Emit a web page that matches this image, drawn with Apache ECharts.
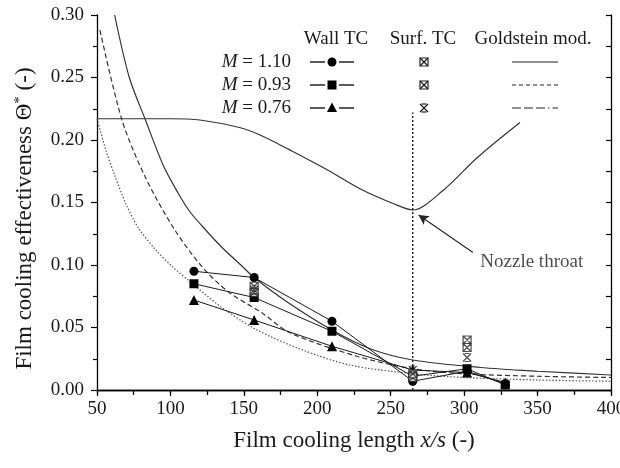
<!DOCTYPE html>
<html>
<head>
<meta charset="utf-8">
<script src="https://cdn.jsdelivr.net/npm/echarts@6/dist/echarts.min.js"></script>
<style>
  html, body { margin: 0; padding: 0; background: #fff; }
  #chart { width: 620px; height: 468px; }
</style>
</head>
<body>
<div id="chart"></div>
<script>
const serif = '"Liberation Serif", "DejaVu Serif", serif';
const ink = '#1a1a1a';

// Wall thermocouples (filled markers joined by lines)
const wallX = [116, 157, 210, 265, 302, 328];
const wall110 = [0.095, 0.090, 0.055, 0.007, 0.015, 0.005];
const wall093 = [0.085, 0.074, 0.047, 0.011, 0.017, 0.004];
const wall076 = [0.072, 0.056, 0.035, 0.016, 0.014, 0.006];

// Surface thermocouples (crossed symbols)
const surfX = [157, 265, 302];
const surf110 = [0.083, 0.010, 0.040];
const surf093 = [0.078, 0.013, 0.034];
const surf076 = [0.080, 0.016, 0.026];

// Goldstein model curves
const gold110X = [62, 72, 83, 95, 105, 113, 124, 136, 147, 157, 180, 210, 236, 265, 311, 350, 400];
const gold110Y = [0.300, 0.250, 0.216, 0.180, 0.158, 0.143, 0.128, 0.113, 0.101, 0.090, 0.070, 0.048, 0.033, 0.024, 0.018, 0.015, 0.012];
const gold093X = [52, 67, 83, 103, 122, 140, 162, 181, 227, 265, 300, 350, 400];
const gold093Y = [0.288, 0.216, 0.170, 0.128, 0.098, 0.078, 0.062, 0.046, 0.027, 0.017, 0.013, 0.011, 0.010];
const gold076X = [50, 56, 62, 70, 78, 90, 101, 113, 135, 159, 190, 222, 265, 300, 350, 400];
const gold076Y = [0.217, 0.192, 0.172, 0.148, 0.130, 0.112, 0.099, 0.087, 0.066, 0.048, 0.032, 0.020, 0.013, 0.010, 0.008, 0.007];

// Nozzle contour curve and throat marker
const nozzleX = [50, 80, 100, 120, 147, 161, 183, 207, 229, 252, 265, 286, 309, 338];
const nozzleY = [0.217, 0.217, 0.217, 0.216, 0.210, 0.204, 0.191, 0.176, 0.161, 0.149, 0.144, 0.160, 0.186, 0.214];
const throatX = 265;
const throatTop = 0.222;
const arrowFrom = [306, 0.110];
const arrowTo = [269, 0.140];
const noteAt = [311, 0.102];
const noteText = 'Nozzle throat';

const legendRows = ['1.10', '0.93', '0.76'];

function zip(xs, ys) { return xs.map((x, i) => [x, ys[i]]); }

const crossBox = 'path://M0,0L10,0L10,10L0,10Z M0,0L10,10 M10,0L0,10';
const crossHour = 'path://M0,0L10,10 M10,0L0,10 M2,0L8,0 M2,10L8,10';

function wallSeries(name, ys, symbol, size) {
  return {
    name, type: 'line', data: zip(wallX, ys),
    symbol, symbolSize: size, showSymbol: true,
    lineStyle: { color: ink, width: 1 },
    itemStyle: { color: '#000' },
    emphasis: { disabled: true }, z: 5
  };
}
function surfSeries(name, ys, symbol) {
  return {
    name, type: 'scatter', data: zip(surfX, ys),
    symbol, symbolSize: 8,
    itemStyle: { color: '#fff', borderColor: '#222', borderWidth: 1.2 },
    emphasis: { disabled: true }, z: 6
  };
}
function curve(name, xs, ys, type, color) {
  return {
    name, type: 'line', data: zip(xs, ys), smooth: 0.3,
    showSymbol: false, symbol: 'none',
    lineStyle: { color, width: 1.2, type },
    emphasis: { disabled: true }, z: 3
  };
}

// legend drawn as a small table
const fs = 19;
const rowY = [62, 85, 108];
const legendGraphics = [];
const txt = (x, y, text, align, extra) => ({
  type: 'text', x, y, silent: true,
  style: Object.assign({ text, fill: ink, font: fs + 'px ' + serif, align, verticalAlign: 'middle' }, extra || {})
});
legendGraphics.push(txt(336, 39, 'Wall TC', 'center'));
legendGraphics.push(txt(423, 39, 'Surf. TC', 'center'));
legendGraphics.push(txt(533, 39, 'Goldstein mod.', 'center'));
const markers = ['circle', 'rect', 'triangle'];
const dashes = [null, [4, 3], [9, 3, 9, 3, 9, 3, 1.5, 3]];
legendRows.forEach((m, i) => {
  const y = rowY[i];
  legendGraphics.push(txt(291, y, '{i|M} = ' + m, 'right', {
    rich: { i: { fontStyle: 'italic', font: 'italic ' + fs + 'px ' + serif, fill: ink } }
  }));
  legendGraphics.push({ type: 'line', silent: true, shape: { x1: 310, y1: y, x2: 325, y2: y }, style: { stroke: '#000', lineWidth: 1.3 } });
  legendGraphics.push({ type: 'line', silent: true, shape: { x1: 339, y1: y, x2: 354, y2: y }, style: { stroke: '#000', lineWidth: 1.3 } });
  if (markers[i] === 'circle') {
    legendGraphics.push({ type: 'circle', silent: true, shape: { cx: 332, cy: y, r: 4.5 }, style: { fill: '#000' } });
  } else if (markers[i] === 'rect') {
    legendGraphics.push({ type: 'rect', silent: true, shape: { x: 327.5, y: y - 4.5, width: 9, height: 9 }, style: { fill: '#000' } });
  } else {
    legendGraphics.push({ type: 'polygon', silent: true, shape: { points: [[332, y - 5.5], [337, y + 4], [327, y + 4]] }, style: { fill: '#000' } });
  }
  const sk = { stroke: '#222', lineWidth: 1.2 };
  if (i < 2) {
    legendGraphics.push({ type: 'rect', silent: true, shape: { x: 420, y: y - 4, width: 8, height: 8 }, style: { fill: '#fff', stroke: '#222', lineWidth: 1.2 } });
    legendGraphics.push({ type: 'polyline', silent: true, shape: { points: [[420, y - 4], [428, y + 4]] }, style: sk });
    legendGraphics.push({ type: 'polyline', silent: true, shape: { points: [[428, y - 4], [420, y + 4]] }, style: sk });
  } else {
    legendGraphics.push({ type: 'polyline', silent: true, shape: { points: [[420, y - 4], [428, y + 4]] }, style: sk });
    legendGraphics.push({ type: 'polyline', silent: true, shape: { points: [[428, y - 4], [420, y + 4]] }, style: sk });
    legendGraphics.push({ type: 'polyline', silent: true, shape: { points: [[421.5, y - 4], [426.5, y - 4]] }, style: sk });
    legendGraphics.push({ type: 'polyline', silent: true, shape: { points: [[421.5, y + 4], [426.5, y + 4]] }, style: sk });
  }
  const st = { stroke: '#222', lineWidth: 1.2 };
  if (dashes[i]) st.lineDash = dashes[i];
  legendGraphics.push({ type: 'line', silent: true, shape: { x1: 512, y1: y, x2: 558, y2: y }, style: st });
});

const axisLine = { show: true, lineStyle: { color: '#000', width: 1.3 } };
const labelStyle = { color: ink, fontFamily: serif, fontSize: fs };

const option = {
  backgroundColor: '#fff',
  animation: false,
  grid: { left: 97, right: 9, top: 15, bottom: 78, outerBoundsMode: 'none', containLabel: false },
  xAxis: [
    {
      type: 'value', min: 50, max: 400, interval: 50,
      axisLine, splitLine: { show: false },
      axisTick: { show: true, length: 6, lineStyle: { color: '#000', width: 1.2 } },
      minorTick: { show: true, splitNumber: 2, length: 4, lineStyle: { color: '#000', width: 1.2 } },
      axisLabel: Object.assign({ margin: 10 }, labelStyle),
      name: 'Film cooling length {i|x/s} (-)',
      nameLocation: 'middle', nameGap: 39,
      nameTextStyle: {
        color: ink, fontFamily: serif, fontSize: 23,
        rich: { i: { fontStyle: 'italic', fontFamily: serif, fontSize: 23, color: ink } }
      }
    },
    {
      type: 'value', position: 'top', min: 50, max: 400, interval: 25,
      axisLine, splitLine: { show: false },
      axisTick: { show: true, inside: true, length: 5, lineStyle: { color: '#000', width: 1.2 } },
      axisLabel: { show: false }
    }
  ],
  yAxis: [
    {
      type: 'value', min: 0, max: 0.3, interval: 0.05,
      axisLine, splitLine: { show: false },
      axisTick: { show: true, length: 6, lineStyle: { color: '#000', width: 1.2 } },
      minorTick: { show: true, splitNumber: 2, length: 4, lineStyle: { color: '#000', width: 1.2 } },
      axisLabel: Object.assign({ margin: 13, formatter: v => v.toFixed(2) }, labelStyle),
      name: '{n|Film cooling effectiveness Θ}{s|*}{n| (-)}',
      nameLocation: 'middle', nameGap: 61,
      nameTextStyle: {
        padding: [0, 32, 0, 0],
        rich: {
          n: { fontFamily: serif, fontSize: 23, color: ink },
          s: { fontFamily: serif, fontSize: 15, color: ink, verticalAlign: 'top', padding: [0, 0, 8, 0] }
        }
      }
    },
    {
      type: 'value', position: 'right', min: 0, max: 0.3, interval: 0.025,
      axisLine, splitLine: { show: false },
      axisTick: { show: true, inside: true, length: 5, lineStyle: { color: '#000', width: 1.2 } },
      axisLabel: { show: false }
    }
  ],
  graphic: legendGraphics,
  series: [
    curve('Nozzle', nozzleX, nozzleY, 'solid', '#333'),
    curve('Goldstein M=1.10', gold110X, gold110Y, 'solid', '#333'),
    curve('Goldstein M=0.93', gold093X, gold093Y, [5, 3], '#333'),
    curve('Goldstein M=0.76', gold076X, gold076Y, [1.5, 1.8], '#555'),
    {
      name: 'Throat', type: 'line', data: [[throatX, 0], [throatX, throatTop]],
      symbol: 'none', lineStyle: { color: '#111', width: 1.3, type: [2, 2] },
      emphasis: { disabled: true }, z: 4,
      markLine: {
        silent: true, symbol: ['none', 'arrow'], symbolSize: [8, 10],
        lineStyle: { color: '#222', width: 1.1, type: 'solid' },
        label: { show: false },
        data: [[{ coord: arrowFrom }, { coord: arrowTo }]]
      }
    },
    {
      name: 'Note', type: 'scatter', data: [noteAt], symbolSize: 0, silent: true,
      label: { show: true, position: 'right', distance: 0, formatter: noteText,
        color: ink, fontFamily: serif, fontSize: fs }
    },
    wallSeries('Wall M=1.10', wall110, 'circle', 9),
    wallSeries('Wall M=0.93', wall093, 'rect', 9),
    wallSeries('Wall M=0.76', wall076, 'triangle', 10),
    surfSeries('Surf M=1.10', surf110, crossBox),
    surfSeries('Surf M=0.93', surf093, crossBox),
    surfSeries('Surf M=0.76', surf076, crossHour)
  ]
};

const chart = echarts.init(document.getElementById('chart'));
chart.setOption(option);
</script>
</body>
</html>
